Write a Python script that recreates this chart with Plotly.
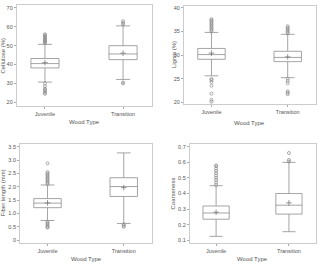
import plotly.graph_objects as go
from plotly.subplots import make_subplots

categories = ["Juvenile", "Transition"]

# Cellulose (%)
cel_q1 = [38.2, 42.6]
cel_med = [40.5, 45.6]
cel_q3 = [43.2, 50.0]
cel_lo = [30.7, 32.1]
cel_hi = [50.7, 60.5]
cel_mean = [41.0, 46.0]
cel_out_j = [51.3, 51.8, 52.3, 52.8, 53.3, 53.8, 54.4, 55.0, 55.6, 56.0, 30.0, 28.5, 27.2, 26.6, 25.8, 25.0, 24.5]
cel_out_t = [61.2, 62.0, 63.0, 30.5, 30.0]

# Lignin (%)
lig_q1 = [29.1, 28.6]
lig_med = [30.1, 29.5]
lig_q3 = [31.4, 30.8]
lig_lo = [25.6, 25.2]
lig_hi = [34.8, 34.4]
lig_mean = [30.4, 29.6]
lig_out_j = [35.0, 35.3, 35.6, 35.9, 36.2, 36.5, 36.8, 37.1, 37.4, 37.6, 24.9, 24.7, 24.3, 23.5, 21.8, 20.5, 20.1]
lig_out_t = [34.6, 34.9, 35.2, 35.5, 35.8, 36.1, 25.0, 24.5, 24.0, 22.3, 22.0, 21.7]

# Fiber length (mm)
fib_q1 = [1.22, 1.64]
fib_med = [1.39, 2.01]
fib_q3 = [1.56, 2.34]
fib_lo = [0.74, 0.63]
fib_hi = [2.07, 3.27]
fib_mean = [1.40, 1.97]
fib_out_j = [2.10, 2.15, 2.20, 2.25, 2.30, 2.35, 2.40, 2.45, 2.50, 2.55, 2.88, 0.70, 0.65, 0.60, 0.55, 0.50, 0.47]
fib_out_t = [0.60, 0.55, 0.50]

# Coarseness
coa_q1 = [0.235, 0.268]
coa_med = [0.275, 0.325]
coa_q3 = [0.320, 0.400]
coa_lo = [0.125, 0.155]
coa_hi = [0.450, 0.600]
coa_mean = [0.280, 0.340]
coa_out_j = [0.455, 0.47, 0.485, 0.50, 0.515, 0.53, 0.545, 0.56, 0.575, 0.58]
coa_out_t = [0.605, 0.615, 0.66]

y_titles = ["Cellulose (%)", "Lignin (%)", "Fiber length (mm)", "Coarseness"]
x_title = "Wood Type"

panels = [
    (cel_q1, cel_med, cel_q3, cel_lo, cel_hi, cel_mean, cel_out_j, cel_out_t, [17.9, 71.6], [20, 30, 40, 50, 60, 70], None),
    (lig_q1, lig_med, lig_q3, lig_lo, lig_hi, lig_mean, lig_out_j, lig_out_t, [19.6, 40.4], [20, 25, 30, 35, 40], None),
    (fib_q1, fib_med, fib_q3, fib_lo, fib_hi, fib_mean, fib_out_j, fib_out_t, [-0.11, 3.61], [0, 0.5, 1.0, 1.5, 2.0, 2.5, 3.0, 3.5], ["0", "0.5", "1.0", "1.5", "2.0", "2.5", "3.0", "3.5"]),
    (coa_q1, coa_med, coa_q3, coa_lo, coa_hi, coa_mean, coa_out_j, coa_out_t, [0.081, 0.719], [0.1, 0.2, 0.3, 0.4, 0.5, 0.6, 0.7], None),
]

W, H = 324, 265
domains = [
    ([0.052, 0.469], [0.600, 0.985]),
    ([0.568, 0.975], [0.608, 0.981]),
    ([0.062, 0.469], [0.079, 0.457]),
    ([0.586, 0.975], [0.079, 0.457]),
]
# title positions in pixels: (ytitle x, xtitle y)
title_px = [(3, 122), (174, 123), (3, 260), (173, 260)]

fig = make_subplots(rows=2, cols=2)
pos = [(1, 1), (1, 2), (2, 1), (2, 2)]
line_col = "#8e8e8e"
tfont = dict(family="Liberation Sans, Arial", size=5.5, color="#555")
afont = dict(family="Liberation Sans, Arial", size=6, color="#555")

for i, (q1, med, q3, lo, hi, mean, oj, ot, yr, tv, tt) in enumerate(panels):
    r, c = pos[i]
    fig.add_trace(go.Box(
        x=[0, 1], q1=q1, median=med, q3=q3, lowerfence=lo, upperfence=hi,
        fillcolor="white", line=dict(color=line_col, width=0.8), width=0.36,
        whiskerwidth=0.5, boxpoints=False, showlegend=False), row=r, col=c)
    fig.add_trace(go.Scatter(
        x=[0, 1], y=mean, mode="markers",
        marker=dict(symbol="cross-thin", size=4, line=dict(color="#777", width=0.8)),
        showlegend=False), row=r, col=c)
    fig.add_trace(go.Scatter(
        x=[0] * len(oj) + [1] * len(ot), y=oj + ot, mode="markers",
        marker=dict(symbol="circle-open", size=3, color="#888", line=dict(width=0.7)),
        showlegend=False), row=r, col=c)
    xd, yd = domains[i]
    ax = "" if i == 0 else str(i + 1)
    fig.layout["xaxis" + ax].update(
        domain=xd, range=[-0.36, 1.37], tickvals=[0, 1], ticktext=categories,
        showline=True, mirror=True, linecolor="#cccccc", linewidth=1,
        ticks="outside", ticklen=2, tickcolor="#aaa", showgrid=False, zeroline=False,
        tickfont=tfont)
    fig.layout["yaxis" + ax].update(
        domain=yd, range=yr, tickvals=tv, ticktext=tt,
        showline=True, mirror=True, linecolor="#cccccc", linewidth=1,
        ticks="outside", ticklen=2, tickcolor="#aaa", showgrid=False, zeroline=False,
        tickfont=tfont)
    tx, ty = title_px[i]
    fig.add_annotation(text=y_titles[i], xref="paper", yref="paper",
                       x=tx / W, y=(yd[0] + yd[1]) / 2, textangle=-90,
                       showarrow=False, font=afont, xanchor="center", yanchor="middle")
    fig.add_annotation(text=x_title, xref="paper", yref="paper",
                       x=(xd[0] + xd[1]) / 2, y=1 - ty / H,
                       showarrow=False, font=afont, xanchor="center", yanchor="middle")

fig.update_layout(width=W, height=H, margin=dict(l=0, r=0, t=0, b=0),
                  paper_bgcolor="white", plot_bgcolor="white")
fig.write_html("out.html")
